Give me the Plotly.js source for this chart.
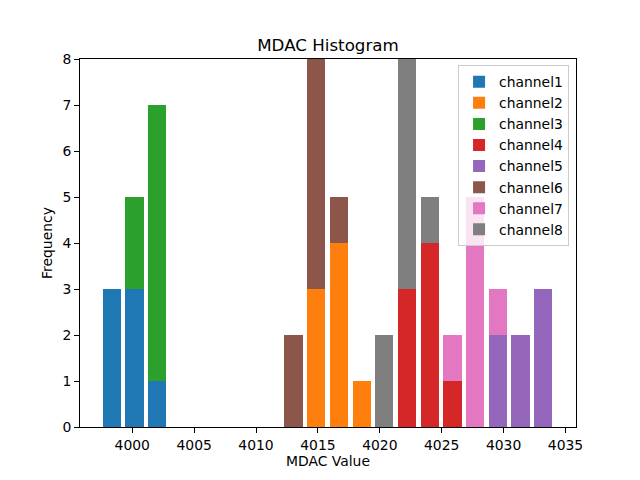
<!DOCTYPE html>
<html>
<head>
<meta charset="utf-8">
<script src="https://cdn.plot.ly/plotly-3.0.1.min.js"></script>
<style>html,body{margin:0;padding:0;background:#fff;}#chart{width:640px;height:480px;}</style>
</head>
<body>
<div id="chart"></div>
<script>
// Bin centers (MDAC value) of the 20 histogram bins
const binCenters = [3998.36, 4000.19, 4002.03, 4003.86, 4005.70, 4007.53, 4009.36, 4011.20, 4013.03, 4014.87,
                    4016.70, 4018.53, 4020.37, 4022.20, 4024.04, 4025.87, 4027.70, 4029.54, 4031.37, 4033.21];
const channelNames = ["channel1","channel2","channel3","channel4","channel5","channel6","channel7","channel8"];
// Counts per bin for each channel (stacked)
const channel1 = [3,3,1,0,0,0,0,0,0,0,0,0,0,0,0,0,0,0,0,0];
const channel2 = [0,0,0,0,0,0,0,0,0,3,4,1,0,0,0,0,0,0,0,0];
const channel3 = [0,2,6,0,0,0,0,0,0,0,0,0,0,0,0,0,0,0,0,0];
const channel4 = [0,0,0,0,0,0,0,0,0,0,0,0,0,3,4,1,0,0,0,0];
const channel5 = [0,0,0,0,0,0,0,0,0,0,0,0,0,0,0,0,0,2,2,3];
const channel6 = [0,0,0,0,0,0,0,0,2,5,1,0,0,0,0,0,0,0,0,0];
const channel7 = [0,0,0,0,0,0,0,0,0,0,0,0,0,0,0,1,5,1,0,0];
const channel8 = [0,0,0,0,0,0,0,0,0,0,0,0,2,5,1,0,0,0,0,0];
const xTicks = [4000, 4005, 4010, 4015, 4020, 4025, 4030, 4035];
const yTicks = [0,1,2,3,4,5,6,7,8];

const series = [channel1, channel2, channel3, channel4, channel5, channel6, channel7, channel8];
const colors = ["#1f77b4","#ff7f0e","#2ca02c","#d62728","#9467bd","#8c564b","#e377c2","#7f7f7f"];

const traces = series.map((vals, i) => ({
  type: "bar",
  name: channelNames[i],
  x: binCenters,
  y: vals,
  width: 1.47,
  marker: {color: colors[i], line: {width: 0}},
  hoverinfo: "x+y+name"
}));

const font = "DejaVu Sans, sans-serif";
const layout = {
  width: 640, height: 480,
  margin: {l: 80, r: 64, t: 59, b: 53, pad: 0},
  paper_bgcolor: "#fff", plot_bgcolor: "#fff",
  barmode: "stack",
  bargap: 0,
  font: {family: font, size: 13.9, color: "#000"},
  title: {text: "MDAC Histogram", font: {family: font, size: 16.7, color: "#000"},
          x: 0.5, xref: "paper", xanchor: "center", y: 1, yref: "paper", yanchor: "bottom", pad: {b: 8}},
  xaxis: {
    range: [3995.78, 4035.85], tickvals: xTicks, ticktext: xTicks.map(String),
    ticks: "outside", ticklen: 5, tickwidth: 1, tickcolor: "#000",
    showline: true, linecolor: "#000", linewidth: 1, mirror: true,
    showgrid: false, zeroline: false,
    tickfont: {family: font, size: 13.9, color: "#000"},
    title: {text: "MDAC Value", font: {family: font, size: 13.9, color: "#000"}, standoff: 4}
  },
  yaxis: {
    range: [0, 8], tickvals: yTicks, ticktext: yTicks.map(String),
    ticks: "outside", ticklen: 5, tickwidth: 1, tickcolor: "#000",
    showline: true, linecolor: "#000", linewidth: 1, mirror: true,
    showgrid: false, zeroline: false,
    tickfont: {family: font, size: 13.9, color: "#000"},
    title: {text: "Frequency", font: {family: font, size: 13.9, color: "#000"}, standoff: 6}
  },
  legend: {
    x: 0.986, xanchor: "right", y: 0.983, yanchor: "top",
    bgcolor: "rgba(255,255,255,0.8)", bordercolor: "#cccccc", borderwidth: 1,
    font: {family: font, size: 13.9, color: "#000"},
    traceorder: "normal", itemclick: false
  },
  showlegend: true
};

Plotly.newPlot("chart", traces, layout, {displayModeBar: false, staticPlot: true});
</script>
</body>
</html>
